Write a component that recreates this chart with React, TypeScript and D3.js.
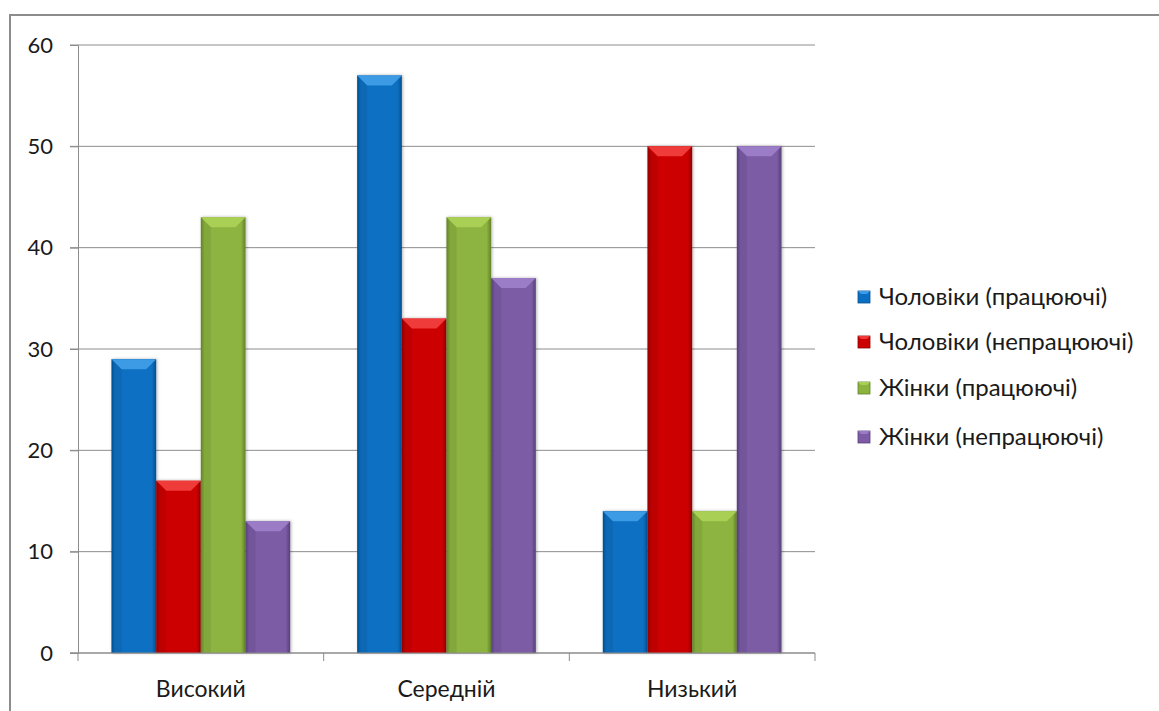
import React, { useRef, useEffect } from 'react';
import * as d3 from 'd3';

// категорії та серії
const categories = ['Високий', 'Середній', 'Низький'];
const seriesNames = [
  'Чоловіки (працюючі)',
  'Чоловіки (непрацюючі)',
  'Жінки (працюючі)',
  'Жінки (непрацюючі)',
];
const menWorking = [29, 57, 14];
const menNotWorking = [17, 33, 50];
const womenWorking = [43, 43, 14];
const womenNotWorking = [13, 37, 50];
const yTicks = [0, 10, 20, 30, 40, 50, 60];

const colors = [
  { base: '#0a6fc2', light: '#3d9be6', dark: '#05508f' },
  { base: '#cc0000', light: '#f03a3a', dark: '#8f0000' },
  { base: '#8db33f', light: '#a9cf55', dark: '#62822a' },
  { base: '#7d5ba6', light: '#9b7bc6', dark: '#57407a' },
];

export default function App() {
  const svgRef = useRef<SVGSVGElement>(null);

  useEffect(() => {
    const width = 1159;
    const height = 711;
    const svg = d3.select(svgRef.current);
    svg.selectAll('*').remove();

    const font = 'Lato, "Open Sans", sans-serif';
    const left = 78, right = 815, top = 45, bottom = 653;

    const values = [menWorking, menNotWorking, womenWorking, womenNotWorking];

    const defs = svg.append('defs');
    colors.forEach((c, i) => {
      const g = defs.append('linearGradient').attr('id', `bar-grad-${i}`)
        .attr('x1', '0%').attr('x2', '100%').attr('y1', '0%').attr('y2', '0%');
      g.append('stop').attr('offset', '0%').attr('stop-color', c.dark);
      g.append('stop').attr('offset', '8%').attr('stop-color', c.base);
      g.append('stop').attr('offset', '50%').attr('stop-color', c.base);
      g.append('stop').attr('offset', '90%').attr('stop-color', c.base);
      g.append('stop').attr('offset', '100%').attr('stop-color', c.dark);
    });
    const shadow = defs.append('filter').attr('id', 'shadow')
      .attr('x', '-20%').attr('y', '-5%').attr('width', '140%').attr('height', '110%');
    shadow.append('feDropShadow').attr('dx', 1).attr('dy', 0).attr('stdDeviation', 1.5)
      .attr('flood-color', '#000').attr('flood-opacity', 0.3);

    // рамка діаграми
    svg.append('rect')
      .attr('x', 10).attr('y', 15).attr('width', width + 10).attr('height', height + 10)
      .attr('fill', 'white').attr('stroke', '#8c8c8c').attr('stroke-width', 2);

    const x0 = d3.scaleBand().domain(categories).range([left, right]);
    const y = d3.scaleLinear().domain([0, 60]).range([bottom, top]);

    const bw = x0.bandwidth() / (4 + 1.5);
    const x1 = d3.scaleBand().domain(seriesNames)
      .range([bw * 0.75, x0.bandwidth() - bw * 0.75]);

    // сітка
    svg.append('g')
      .selectAll('line')
      .data(yTicks)
      .join('line')
      .attr('x1', left - 8).attr('x2', right)
      .attr('y1', d => y(d)).attr('y2', d => y(d))
      .attr('stroke', '#8c8c8c').attr('stroke-width', 1);

    // вісь Y
    const yAxis = svg.append('g')
      .attr('transform', `translate(${left},0)`)
      .call(d3.axisLeft(y).tickValues(yTicks).tickSize(8).tickPadding(17));
    yAxis.select('.domain').attr('stroke', '#8c8c8c');
    yAxis.selectAll('.tick line').attr('stroke', '#8c8c8c');
    yAxis.selectAll('.tick text')
      .attr('fill', '#1a1a1a').style('font-size', '22px').style('font-family', font);

    // стовпці
    const groups = svg.append('g').selectAll('g')
      .data(categories)
      .join('g')
      .attr('transform', d => `translate(${x0(d)},0)`);

    seriesNames.forEach((s, si) => {
      const bx = x1(s)!;
      const w = x1.bandwidth();
      const c = colors[si];
      const g = groups.append('g').attr('filter', 'url(#shadow)');
      g.append('rect')
        .attr('x', bx)
        .attr('y', (_, i) => y(values[si][i]))
        .attr('width', w)
        .attr('height', (_, i) => bottom - y(values[si][i]))
        .attr('fill', `url(#bar-grad-${si})`);
      // фаска зверху
      const bev = 10;
      g.append('path')
        .attr('d', (_, i) => {
          const t = y(values[si][i]);
          return `M${bx},${t}L${bx + w},${t}L${bx + w - bev},${t + bev}L${bx + bev},${t + bev}Z`;
        })
        .attr('fill', c.light);
      g.append('path')
        .attr('d', (_, i) => {
          const t = y(values[si][i]);
          return `M${bx},${t}L${bx + bev},${t + bev}L${bx + bev},${bottom}L${bx},${bottom}Z`;
        })
        .attr('fill', c.dark).attr('opacity', 0.25);
    });

    // вісь X
    svg.append('line')
      .attr('x1', left - 8).attr('x2', right)
      .attr('y1', bottom).attr('y2', bottom)
      .attr('stroke', '#8c8c8c');
    const boundaries = [...categories.map(c => x0(c)!), right];
    svg.append('g').selectAll('line')
      .data(boundaries)
      .join('line')
      .attr('x1', d => d).attr('x2', d => d)
      .attr('y1', bottom).attr('y2', bottom + 8)
      .attr('stroke', '#8c8c8c');
    svg.append('g').selectAll('text')
      .data(categories)
      .join('text')
      .attr('x', d => x0(d)! + x0.bandwidth() / 2)
      .attr('y', 697)
      .attr('text-anchor', 'middle')
      .attr('fill', '#1a1a1a')
      .style('font-size', '23px').style('font-family', font)
      .text(d => d);

    // легенда
    const legendY = [297, 342, 388, 437];
    const legend = svg.append('g').selectAll('g')
      .data(seriesNames)
      .join('g')
      .attr('transform', (_, i) => `translate(858,${legendY[i]})`);
    legend.append('rect')
      .attr('x', 0).attr('y', -6).attr('width', 12).attr('height', 12)
      .attr('fill', (_, i) => colors[i].base)
      .attr('stroke', (_, i) => colors[i].dark).attr('stroke-width', 0.8);
    legend.append('path')
      .attr('d', 'M0,-6L12,-6L9,-3L3,-3Z')
      .attr('fill', (_, i) => colors[i].light);
    legend.append('text')
      .attr('x', 21).attr('y', 0).attr('dy', '0.35em')
      .attr('fill', '#1a1a1a')
      .style('font-size', '24px').style('font-family', font)
      .text(d => d);
  }, []);

  return (
    <svg
      ref={svgRef}
      width={1159}
      height={711}
      viewBox="0 0 1159 711"
      style={{ position: 'absolute', left: 0, top: 0 }}
    />
  );
}
